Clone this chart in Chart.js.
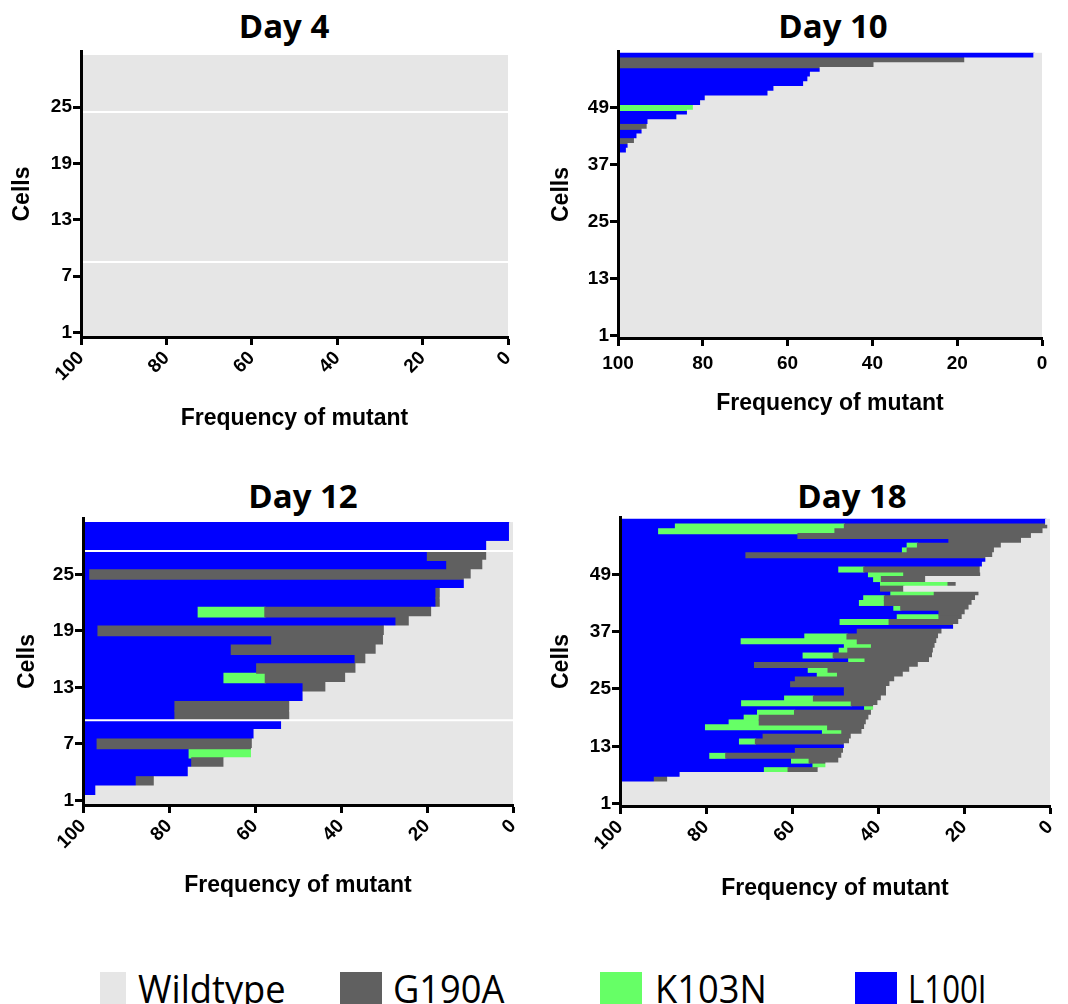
<!DOCTYPE html>
<html>
<head>
<meta charset="utf-8">
<script src="https://cdn.jsdelivr.net/npm/chart.js@4.4.1/dist/chart.umd.min.js"></script>
<style>
html,body{margin:0;padding:0;background:#fff;}
body{width:1068px;height:1004px;position:relative;overflow:hidden;}
.panel{position:absolute;}
.ptitle{position:absolute;font-family:'Open Sans',sans-serif;font-weight:700;font-size:33px;line-height:40px;height:40px;white-space:nowrap;transform:translateX(-50%);color:#000;}
.lg-box{position:absolute;top:972px;height:40px;}
.lg-text{position:absolute;top:968px;font-family:'Open Sans',sans-serif;font-size:39px;line-height:39px;white-space:nowrap;transform-origin:left center;color:#000;}
</style>
</head>
<body>
<div class="ptitle" style="left:284px;top:6px">Day 4</div>
<div class="ptitle" style="left:833px;top:6px">Day 10</div>
<div class="ptitle" style="left:303px;top:476px">Day 12</div>
<div class="ptitle" style="left:852px;top:476px">Day 18</div>

<div class="panel" style="left:0;top:0"><canvas id="c4" width="534" height="440"></canvas></div>
<div class="panel" style="left:534px;top:0"><canvas id="c10" width="534" height="440"></canvas></div>
<div class="panel" style="left:0;top:470px"><canvas id="c12" width="534" height="450"></canvas></div>
<div class="panel" style="left:534px;top:470px"><canvas id="c18" width="534" height="450"></canvas></div>

<div class="lg-box" style="left:100px;width:26px;background:#e6e6e6"></div>
<div class="lg-text" style="left:138px;transform:scaleX(0.93)">Wildtype</div>
<div class="lg-box" style="left:340px;width:42px;background:#606060"></div>
<div class="lg-text" style="left:393px;transform:scaleX(0.93)">G190A</div>
<div class="lg-box" style="left:600px;width:42px;background:#66ff66"></div>
<div class="lg-text" style="left:655px;transform:scaleX(0.93)">K103N</div>
<div class="lg-box" style="left:855px;width:42px;background:#0000ff"></div>
<div class="lg-text" style="left:908px;transform:scaleX(0.8)">L100I</div>

<script>
// ---------------- DATA ----------------
const seriesNames = ['Wildtype', 'G190A', 'K103N', 'L100I'];
const xTickValues = [100, 80, 60, 40, 20, 0];
const day4YTicks = [1, 7, 13, 19, 25];
const day10YTicks = [1, 13, 25, 37, 49];
const day12YTicks = [1, 7, 13, 19, 25];
const day18YTicks = [1, 13, 25, 37, 49];

function range(n) { const a = []; for (let i = 1; i <= n; i++) a.push(i); return a; }
const day4Cells = range(30);
const day10Cells = range(60);
const day12Cells = range(30);
const day18Cells = range(60);

// white separator lines between cell groups (cell boundaries)
const day4Separators = [8.5, 24.5];
const day12Separators = [9.5, 27.5];

// Day 4 (cells 1..30)
const day4Wildtype = [100,100,100,100,100,100,100,100,100,100,
                      100,100,100,100,100,100,100,100,100,100,
                      100,100,100,100,100,100,100,100,100,100];
const day4G190A = [0,0,0,0,0,0,0,0,0,0, 0,0,0,0,0,0,0,0,0,0, 0,0,0,0,0,0,0,0,0,0];
const day4K103N = [0,0,0,0,0,0,0,0,0,0, 0,0,0,0,0,0,0,0,0,0, 0,0,0,0,0,0,0,0,0,0];
const day4L100I = [0,0,0,0,0,0,0,0,0,0, 0,0,0,0,0,0,0,0,0,0, 0,0,0,0,0,0,0,0,0,0];

// Day 10 (cells 1..60)
const day10Wildtype = [100,100,100,100,100,100,100,100,100,100,
                       100,100,100,100,100,100,100,100,100,100,
                       100,100,100,100,100,100,100,100,100,100,
                       100,100,100,100,100,100,100,100,100,98.0,
                       97.6,96.1,95.5,94.3,93.1,92.9,86.1,83.6,82.2,80.5,
                       79.4,64.6,63.2,56.2,55.2,54.6,52.3,39.6,18.2,1.9];
const day10G190A = [0,0,0,0,0,0,0,0,0,0, 0,0,0,0,0,0,0,0,0,0,
                    0,0,0,0,0,0,0,0,0,0, 0,0,0,0,0,0,0,0,0,0,
                    0,3.9,0,0,6.9,0,0,0,0,0, 0,0,0,0,0,0,0,60.4,81.8,0];
const day10K103N = [0,0,0,0,0,0,0,0,0,0, 0,0,0,0,0,0,0,0,0,0,
                    0,0,0,0,0,0,0,0,0,0, 0,0,0,0,0,0,0,0,0,0,
                    0,0,0,0,0,0,0,0,17.8,0, 0,0,0,0,0,0,0,0,0,0];
const day10L100I = [0,0,0,0,0,0,0,0,0,0, 0,0,0,0,0,0,0,0,0,0,
                    0,0,0,0,0,0,0,0,0,0, 0,0,0,0,0,0,0,0,0,2.0,
                    2.4,0,4.5,5.7,0,7.1,13.9,16.4,0,19.5,
                    20.6,35.4,36.8,43.8,44.8,45.4,47.7,0,0,98.1];

// Day 12 (cells 1..30)
const day12Wildtype = [100,97.0,83.4,75.5,67.2,60.8,60.6,60.2,53.8,51.9,
                       51.9,48.8,43.5,38.9,36.5,34.2,31.8,30.1,29.9,24.1,
                       18.9,16.9,16.9,11.3,9.7,7.0,6.1,6.1,0.8,0.8];
const day12G190A = [0,0,4.2,0,7.5,0,36.1,0,0,26.7,
                    26.7,0,5.3,18.7,23.1,2.5,33.7,26.0,66.6,3.1,
                    38.8,1.0,1.0,0,88.7,8.4,13.8,0,0,0];
const day12K103N = [0,0,0,0,0,14.5,0,0,0,0,
                    0,0,0,9.6,0,0,0,0,0,0,
                    15.5,0,0,0,0,0,0,0,0,0];
const day12L100I = [0,3.0,12.4,24.5,25.3,24.7,3.3,39.8,46.2,21.4,
                    21.4,51.2,51.2,32.8,40.4,63.3,34.5,43.9,3.5,72.8,
                    26.8,82.1,82.1,88.7,1.6,84.6,80.1,93.9,99.2,99.2];

// Day 18 (cells 1..60)
const day18Wildtype = [100,100,100,100,100,88.9,86.0,53.9,52.1,49.1,
                       48.4,48.0,47.8,46.6,46.2,43.7,43.1,42.7,42.1,41.5,
                       41.0,40.0,39.2,38.0,38.0,37.2,36.1,34.1,32.6,30.6,
                       28.0,27.3,27.1,26.7,26.3,25.9,25.1,22.4,21.2,20.4,
                       19.7,18.8,18.1,17.3,16.5,34.0,21.8,28.9,16.1,16.2,
                       15.7,14.9,13.3,12.9,11.3,6.6,4.3,1.6,0.5,1.0];
const day18G190A = [0,0,0,0,0,3.1,0,7.0,0,6.9,
                    27.0,11.2,0,21.9,20.5,4.7,8.6,24.9,25.5,17.9,
                    0,6.2,15.8,9.8,9.8,23.1,23.1,15.3,19.0,38.1,
                    15.0,23.1,19.9,14.8,18.5,21.3,19.7,0,16.2,5.4,
                    6.1,15.9,20.4,21.2,10.4,5.4,1.9,10.3,17.9,27.1,
                    0,0,57.4,20.3,19.5,16.9,54.3,48.4,47.3,0];
const day18K103N = [0,0,0,0,0,0,0,5.5,3.0,4.1,
                    3.7,0,0,3.7,0,4.5,28.4,7.0,3.5,8.6,
                    2.1,25.5,6.7,0,0,0,0,4.7,4.6,0,
                    3.8,7.0,2.0,6.3,27.0,9.8,0,0,11.4,9.7,
                    0,1.6,5.8,4.8,10.1,0,15.7,1.8,8.2,5.8,
                    0,0,0,1.1,2.4,0,0,41.0,39.3,0];
const day18L100I = [0,0,0,0,0,8.0,14.0,33.6,44.9,39.9,
                    20.9,40.8,52.2,27.8,33.3,47.1,19.9,25.4,28.9,32.0,
                    56.9,28.3,38.3,52.2,52.2,39.7,40.8,45.9,43.8,31.3,
                    53.2,42.6,51.0,52.2,28.2,43.0,55.2,77.6,51.2,64.5,
                    74.2,63.7,55.7,56.7,63.0,60.6,60.6,59.0,57.8,50.9,
                    84.3,85.1,29.3,65.7,66.8,76.5,41.4,9.0,12.9,99.0];

// ---------------- RENDERING ----------------
const seriesColors = ['#e6e6e6', '#606060', '#66ff66', '#0000ff'];

const separatorPlugin = {
  id: 'separators',
  afterDatasetsDraw(chart, args, opts) {
    const lines = opts.lines || [];
    const {ctx, chartArea} = chart;
    const y = chart.scales.y;
    ctx.save();
    ctx.strokeStyle = '#ffffff';
    ctx.lineWidth = 2;
    lines.forEach(v => {
      const py = y.getPixelForValue(v);
      ctx.beginPath();
      ctx.moveTo(chartArea.left, py);
      ctx.lineTo(chartArea.right, py);
      ctx.stroke();
    });
    ctx.restore();
  }
};

const tickFont = {family: "'Liberation Sans', Arial, sans-serif", weight: 'bold', size: 19};
const axisTitleFont = {family: "'Liberation Sans', Arial, sans-serif", weight: 'bold', size: 23};

function buildChart(id, cells, series, yTicks, separators, L) {
  const datasets = series.map((vals, k) => ({
    label: seriesNames[k],
    data: cells.map((c, i) => ({y: c, x: vals[i] === 0 ? null : vals[i]})),
    backgroundColor: seriesColors[k],
    borderWidth: 0,
    inflateAmount: 0.6,
    barPercentage: 1,
    categoryPercentage: 1
  }));
  return new Chart(document.getElementById(id), {
    type: 'bar',
    data: {datasets},
    plugins: [separatorPlugin],
    options: {
      indexAxis: 'y',
      responsive: false,
      animation: false,
      devicePixelRatio: 1,
      layout: {padding: {left: 0, right: L.padRight, top: L.padTop, bottom: 0}},
      plugins: {
        legend: {display: false},
        tooltip: {enabled: false},
        title: {display: false},
        separators: {lines: separators}
      },
      scales: {
        x: {
          type: 'linear', stacked: true, reverse: true, min: 0, max: 100, offset: false,
          afterBuildTicks: s => { s.ticks = xTickValues.map(v => ({value: v})); },
          afterFit: s => { s.height = L.xAxisHeight; s.paddingLeft = 0; s.paddingRight = 0; },
          ticks: {font: tickFont, color: '#000', padding: L.xTickPad, minRotation: L.rot, maxRotation: L.rot, autoSkip: false},
          grid: {offset: false, drawOnChartArea: false, drawTicks: true, tickLength: 8, tickWidth: 3, tickColor: '#000', color: '#000'},
          border: {display: true, color: '#000', width: 3, z: 1},
          title: {display: true, text: 'Frequency of mutant', font: axisTitleFont, color: '#000', padding: {top: 0, bottom: L.xTitlePad}}
        },
        y: {
          type: 'linear', stacked: true, min: 0.5, max: L.yMax, offset: false,
          afterBuildTicks: s => { s.ticks = yTicks.map(v => ({value: v})); },
          afterFit: s => { s.width = L.yAxisWidth; s.paddingTop = 0; s.paddingBottom = 0; },
          ticks: {font: tickFont, color: '#000', padding: 1, autoSkip: false},
          grid: {offset: false, drawOnChartArea: false, drawTicks: true, tickLength: 8, tickWidth: 3, tickColor: '#000', color: '#000'},
          border: {display: true, color: '#000', width: 3, z: 1},
          title: {display: true, text: 'Cells', font: axisTitleFont, color: '#000', padding: {top: L.yTitlePad, bottom: 0}}
        }
      }
    }
  });
}

buildChart('c4', day4Cells, [day4Wildtype, day4G190A, day4K103N, day4L100I], day4YTicks, day4Separators,
  {padRight: 26, padTop: 51, xAxisHeight: 103, yAxisWidth: 81, xTitlePad: 8, yTitlePad: 9, yMax: 31, rot: 45, xTickPad: 2});
buildChart('c10', day10Cells, [day10Wildtype, day10G190A, day10K103N, day10L100I], day10YTicks, [],
  {padRight: 26, padTop: 51, xAxisHeight: 102, yAxisWidth: 84, xTitlePad: 23, yTitlePad: 14, yMax: 61, rot: 0, xTickPad: 6});
buildChart('c12', day12Cells, [day12Wildtype, day12G190A, day12K103N, day12L100I], day12YTicks, day12Separators,
  {padRight: 21, padTop: 48, xAxisHeight: 115, yAxisWidth: 83, xTitlePad: 21, yTitlePad: 14, yMax: 31, rot: 45, xTickPad: 2});
buildChart('c18', day18Cells, [day18Wildtype, day18G190A, day18K103N, day18L100I], day18YTicks, [],
  {padRight: 18, padTop: 47, xAxisHeight: 114, yAxisWidth: 86, xTitlePad: 18, yTitlePad: 14, yMax: 61, rot: 45, xTickPad: 2});
</script>
</body>
</html>
